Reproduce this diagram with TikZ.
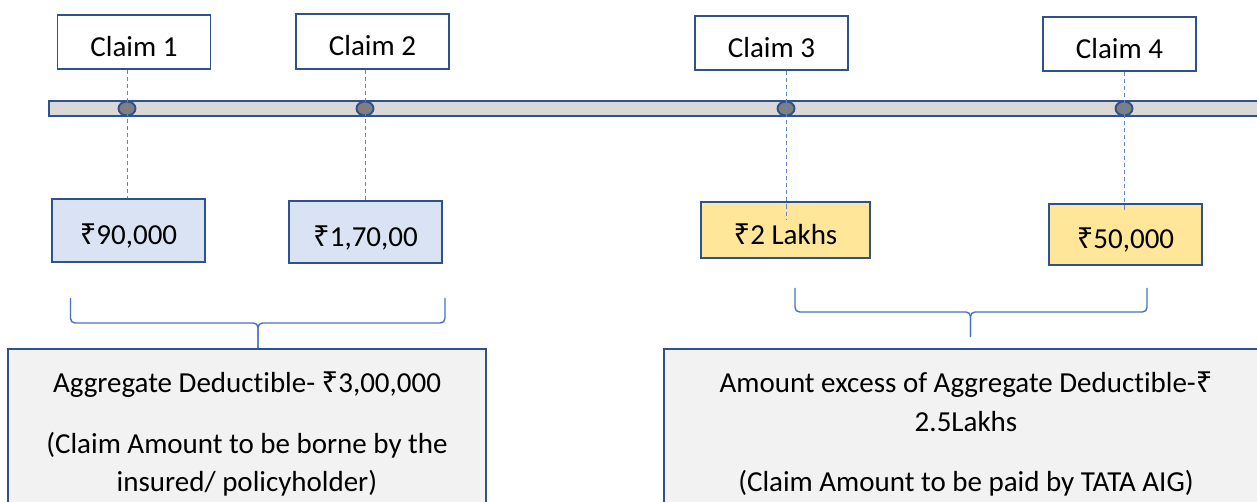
\documentclass[tikz,border=0pt]{standalone}
\usepackage{fontspec}
\setmainfont{Carlito}[Ligatures=NoCommon]
\newfontfamily\rupeefont{Noto Sans}
\newcommand{\rupee}{{\rupeefont ₹}}
\usepackage{tikz}
\usetikzlibrary{shapes.geometric,calc}
\usepackage{xcolor}
\definecolor{ddnavy}{RGB}{47,82,143}
\definecolor{ddline}{RGB}{68,114,196}
\definecolor{ddblue}{RGB}{218,227,243}
\definecolor{ddyellow}{RGB}{255,230,153}
\definecolor{ddgray}{RGB}{242,242,242}
\definecolor{ddbar}{RGB}{217,217,217}
\definecolor{dddot}{RGB}{127,127,127}
\tikzset{
    claimbox/.style={
        draw=ddnavy,line width=1.1pt,fill=#1,inner sep=0pt,
        minimum width=3.06cm,minimum height=1.08cm,
        text height=16pt,text depth=0pt,
        font=\fontsize{16.5pt}{22pt}\selectfont
    },
    claimbox/.default=white,
    notebox/.style={
        draw=ddnavy,line width=1.1pt,fill=ddgray,anchor=north,
        align=center,inner xsep=0pt,inner ysep=0.46cm,
        font=\fontsize{16.5pt}{22pt}\selectfont
    },
    eventdot/.style={
        ellipse,draw=ddnavy,line width=1.1pt,fill=dddot,inner sep=0pt,
        minimum width=0.34cm,minimum height=0.28cm
    },
    guide/.style={
        draw=ddline!85,line width=0.5pt,dash pattern=on 2.3pt off 1.7pt
    },
    bracket/.style={
        draw=ddline,line width=0.8pt,rounded corners=0.09cm
    }
}

\begin{document}
\begin{tikzpicture}[x=0.02cm,y=-0.02cm]
\useasboundingbox (0,0) rectangle (1257,502);
\clip (0,0) rectangle (1257,502);

\draw[draw=ddnavy,line width=1.1pt,fill=ddbar] (49,101) rectangle (1275,116);

\node[eventdot] (d1) at (127,108.5) {};
\node[eventdot] (d2) at (365,108.5) {};
\node[eventdot] (d3) at (786,108.5) {};
\node[eventdot] (d4) at (1124,108.5) {};

\node[claimbox] (c1) at (134,42) {Claim 1};
\node[claimbox,minimum height=1.1cm] (c2) at (372.5,41.5) {Claim 2};
\node[claimbox] (c3) at (771.5,43) {Claim 3};
\node[claimbox] (c4) at (1119.5,44) {Claim 4};

\node[claimbox=ddblue,minimum height=1.26cm] (a1) at (128.5,230.5) {\rupee90,000};
\node[claimbox=ddblue,minimum height=1.24cm] (a2) at (365.5,232) {\rupee1,70,00};
\node[claimbox=ddyellow,minimum width=3.38cm,minimum height=1.12cm] (a3) at (785.5,230) {\rupee2 Lakhs};
\node[claimbox=ddyellow,minimum height=1.22cm] (a4) at (1125.5,234.5) {\rupee50,000};

\draw[guide] (c1.south -| d1) -- (a1.north -| d1);
\draw[guide] (c2.south -| d2) -- (a2.north -| d2);
\draw[guide] (c3.south -| d3) -- ($(a3.north -| d3)+(0,18)$);
\draw[guide] (c4.south -| d4) -- ($(a4.north -| d4)+(0,9)$);

\node[notebox,minimum width=9.56cm] (nl) at (247,348)
{Aggregate Deductible- \rupee3,00,000\\[12.5pt]
(Claim Amount to be borne by the\\
insured/ policyholder)};
\node[notebox,minimum width=12.08cm] (nr) at (966,348)
{Amount excess of Aggregate Deductible-\rupee\\
2.5Lakhs\\[12.5pt]
(Claim Amount to be paid by TATA AIG)};

\coordinate (lbl) at (70.5,298);
\coordinate (lbr) at (445,298);
\coordinate (lbm) at (258,323);
\draw[bracket] (lbl) |- (lbm) -- (lbm |- nl.north);
\draw[bracket] (lbr) |- (lbm) -- (lbm |- nl.north);

\coordinate (rbl) at (795,288);
\coordinate (rbr) at (1147,288);
\coordinate (rbm) at (970.5,312);
\draw[bracket] (rbl) |- (rbm) -- ++(0,25);
\draw[bracket] (rbr) |- (rbm) -- ++(0,25);

\end{tikzpicture}
\end{document}
